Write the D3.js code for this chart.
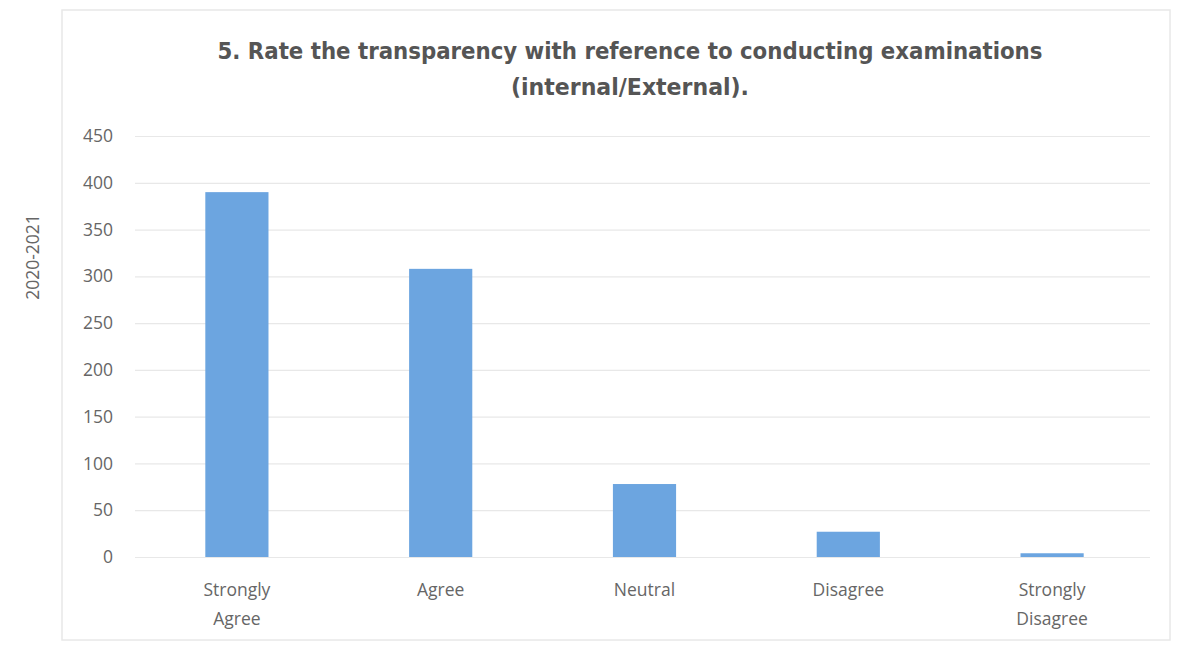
<!DOCTYPE html>
<html><head><meta charset="utf-8">
<script src="https://cdn.jsdelivr.net/npm/d3@7"></script>
<style>body{margin:0;background:#fff;}svg{display:block;}</style>
</head><body>
<svg id="chart" width="1183" height="647"></svg>
<script>
const categories = [["Strongly","Agree"],["Agree"],["Neutral"],["Disagree"],["Strongly","Disagree"]];
const values = [390, 308, 78, 27, 4];
const yTicks = [0,50,100,150,200,250,300,350,400,450];
const titleLines = ["5. Rate the transparency with reference to conducting examinations","(internal/External)."];
const yLabel = "2020-2021";

const svg = d3.select("#chart");
const m = {left:135, right:1154, top:136, bottom:557};
const font = "'DejaVu Sans Condensed', 'Open Sans', sans-serif";
const lf = "'Open Sans', sans-serif";

svg.append("rect").attr("x",62).attr("y",10).attr("width",1108).attr("height",630)
  .attr("fill","#fff").attr("stroke","#e8e8e8").attr("stroke-width",1.5);

const x = d3.scaleBand().domain(d3.range(categories.length)).range([m.left,m.right]).paddingInner(0.69).paddingOuter(0.345);
const y = d3.scaleLinear().domain([0,450]).range([m.bottom,m.top]);

const yAxis = d3.axisLeft(y).tickValues(yTicks).tickSize(-(m.right-m.left-4)).tickPadding(22);
const gy = svg.append("g").attr("transform",`translate(${m.left},0)`).call(yAxis);
gy.select(".domain").remove();
gy.selectAll(".tick line").attr("stroke","#e8e8e8").attr("stroke-width",1.2);
gy.selectAll(".tick text").attr("fill","#666").style("font-family",lf).style("font-size","17.5px");

svg.append("g").selectAll("rect").data(values).join("rect")
  .attr("x",(d,i)=>x(i)).attr("width",x.bandwidth())
  .attr("y",d=>y(d)).attr("height",d=>y(0)-y(d))
  .attr("fill","#6ca5e0");

const xl = svg.append("g").selectAll("text").data(categories).join("text")
  .attr("x",(d,i)=>x(i)+x.bandwidth()/2).attr("y",596)
  .attr("text-anchor","middle").attr("fill","#666")
  .style("font-family",lf).style("font-size","17.5px");
xl.selectAll("tspan").data(d=>d).join("tspan")
  .attr("x",function(){return this.parentNode.getAttribute("x");})
  .attr("dy",(d,i)=>i===0?0:29).text(d=>d);

const tl = [825, 238];
svg.append("g").selectAll("text").data(titleLines).join("text")
  .attr("x",630).attr("y",(d,i)=>59+i*36).attr("text-anchor","middle")
  .attr("textLength",(d,i)=>tl[i]).attr("lengthAdjust","spacingAndGlyphs")
  .attr("fill","#555").style("font-family",font).style("font-weight","bold").style("font-size","23px")
  .text(d=>d);

svg.append("text").attr("transform","translate(39,257) rotate(-90)").attr("text-anchor","middle")
  .attr("fill","#666").style("font-family",lf).style("font-size","17.5px").text(yLabel);
</script>
</body></html>
